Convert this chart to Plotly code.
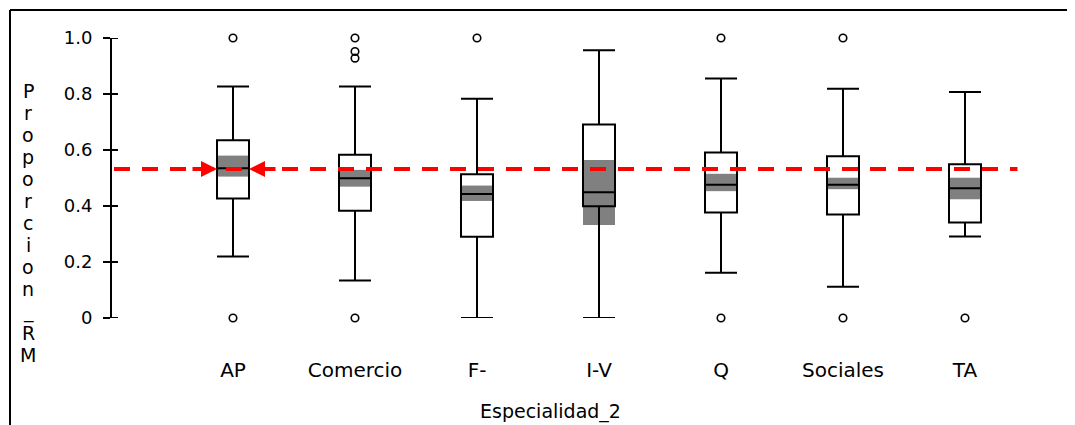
import plotly.graph_objects as go

# ---------------- data ----------------
categories = ["AP", "Comercio", "F-", "I-V", "Q", "Sociales", "TA"]
lower_whisker = [0.220, 0.134, 0.000, 0.000, 0.162, 0.112, 0.291]
q1_values     = [0.427, 0.383, 0.290, 0.399, 0.377, 0.370, 0.341]
medians       = [0.535, 0.499, 0.443, 0.449, 0.476, 0.476, 0.463]
q3_values     = [0.635, 0.583, 0.513, 0.691, 0.591, 0.578, 0.549]
upper_whisker = [0.827, 0.827, 0.783, 0.956, 0.855, 0.819, 0.807]
notch_low     = [0.505, 0.469, 0.418, 0.332, 0.453, 0.460, 0.424]
notch_high    = [0.580, 0.529, 0.473, 0.564, 0.515, 0.501, 0.501]
outliers = [
    [1.0, 0.0],
    [1.0, 0.952, 0.928, 0.0],
    [1.0],
    [],
    [1.0, 0.0],
    [1.0, 0.0],
    [0.0],
]
reference_value = 0.532
y_tick_values = [0, 0.2, 0.4, 0.6, 0.8, 1.0]
y_tick_labels = ["0", "0.2", "0.4", "0.6", "0.8", "1.0"]
x_title = "Especialidad_2"
y_title = "Proporcion_RM"

# ---------------- layout geometry ----------------
# The page body has an 8px margin, so figure coordinates = page coordinates - 8.
BODY = 8
W, H = 1075 - BODY, 425 - BODY
PLOT_L, PLOT_R = 112 - BODY, 1075 - BODY   # plot area left/right px (figure coords)
PLOT_T, PLOT_B = 38 - BODY, 318 - BODY     # plot area top/bottom px (y=1 .. y=0)
CAT0_PX, CAT_STEP_PX = 233 - BODY, 122     # pixel of first category and spacing
x_range = [(PLOT_L - CAT0_PX) / CAT_STEP_PX, (PLOT_R - CAT0_PX) / CAT_STEP_PX]
box_w = 32 / CAT_STEP_PX
positions = list(range(len(categories)))
FONT = "DejaVu Sans"


def px_to_paper_x(page_px):
    return (page_px - BODY - PLOT_L) / (PLOT_R - PLOT_L)


def px_to_paper_y(page_py):
    return (PLOT_B - (page_py - BODY)) / (PLOT_B - PLOT_T)


fig = go.Figure()

# boxes
fig.add_trace(go.Box(
    x=positions,
    q1=q1_values, median=medians, q3=q3_values,
    lowerfence=lower_whisker, upperfence=upper_whisker,
    width=box_w, whiskerwidth=1,
    line=dict(color="black", width=2),
    fillcolor="rgba(0,0,0,0)",
    boxpoints=False, showlegend=False, hoverinfo="skip",
))

# outliers
ox, oy = [], []
for p, vals in zip(positions, outliers):
    for v in vals:
        ox.append(p)
        oy.append(v)
fig.add_trace(go.Scatter(
    x=ox, y=oy, mode="markers",
    marker=dict(symbol="circle-open", size=7.5, color="black",
                line=dict(width=1.6, color="black")),
    cliponaxis=False, showlegend=False, hoverinfo="skip",
))

# reference dashed line
line_start = x_range[0] + 2 / CAT_STEP_PX
line_end = positions[-1] + 0.43
fig.add_trace(go.Scatter(
    x=[line_start, line_end], y=[reference_value, reference_value],
    mode="lines",
    line=dict(color="#ff0000", width=4, dash="16px,12px"),
    showlegend=False, hoverinfo="skip",
))

# notch (confidence) bands behind boxes
shapes = []
for p, lo, hi in zip(positions, notch_low, notch_high):
    shapes.append(dict(type="rect", xref="x", yref="y",
                       x0=p - box_w / 2, x1=p + box_w / 2, y0=lo, y1=hi,
                       fillcolor="#808080", line=dict(width=0), layer="below"))

# inner half of the cross-shaped y ticks
for tv in y_tick_values:
    shapes.append(dict(type="line", xref="paper", yref="y",
                       x0=0, x1=6 / (PLOT_R - PLOT_L), y0=tv, y1=tv,
                       line=dict(color="black", width=2)))

# frame (left and top border)
shapes.append(dict(type="line", xref="paper", yref="paper",
                   x0=px_to_paper_x(10), x1=px_to_paper_x(10),
                   y0=px_to_paper_y(10), y1=px_to_paper_y(440),
                   line=dict(color="black", width=2)))
shapes.append(dict(type="line", xref="paper", yref="paper",
                   x0=px_to_paper_x(10), x1=px_to_paper_x(1090),
                   y0=px_to_paper_y(10), y1=px_to_paper_y(10),
                   line=dict(color="black", width=2)))

annotations = []
# arrows pointing to first box at the reference level
for tip, off in [(positions[0] - box_w / 2, -26), (positions[0] + box_w / 2, 28)]:
    annotations.append(dict(
        x=tip, y=reference_value, xref="x", yref="y", text="",
        showarrow=True, ax=off, ay=0, arrowhead=2, arrowsize=0.8,
        arrowwidth=4, arrowcolor="#ff0000", standoff=0,
    ))

# vertical stacked y title
for i, ch in enumerate(y_title):
    annotations.append(dict(
        x=px_to_paper_x(28), y=px_to_paper_y(91 + 22 * i),
        xref="paper", yref="paper", text=ch, showarrow=False,
        xanchor="center", yanchor="middle",
        font=dict(family=FONT, size=19, color="black"),
    ))

# x title
annotations.append(dict(
    x=px_to_paper_x(550), y=px_to_paper_y(411), xref="paper", yref="paper",
    text=x_title, showarrow=False, xanchor="center", yanchor="middle",
    font=dict(family=FONT, size=19, color="black"),
))

fig.update_layout(
    width=W, height=H,
    margin=dict(l=PLOT_L, r=W - PLOT_R, t=PLOT_T, b=H - PLOT_B, pad=0),
    paper_bgcolor="white", plot_bgcolor="white",
    showlegend=False, hovermode=False,
    shapes=shapes, annotations=annotations,
    xaxis=dict(
        range=x_range, showgrid=False, zeroline=False, showline=False,
        tickmode="array", tickvals=positions, ticktext=categories,
        ticks="", ticklabelstandoff=38,
        tickfont=dict(family=FONT, size=20, color="black"),
    ),
    yaxis=dict(
        range=[0, 1], showgrid=False, zeroline=False,
        showline=True, linecolor="black", linewidth=2,
        tickmode="array", tickvals=y_tick_values, ticktext=y_tick_labels,
        ticks="outside", ticklen=7, tickwidth=2, tickcolor="black",
        ticklabelstandoff=7,
        tickfont=dict(family=FONT, size=18, color="black"),
    ),
)

fig.write_html("out.html", config={"displayModeBar": False})
